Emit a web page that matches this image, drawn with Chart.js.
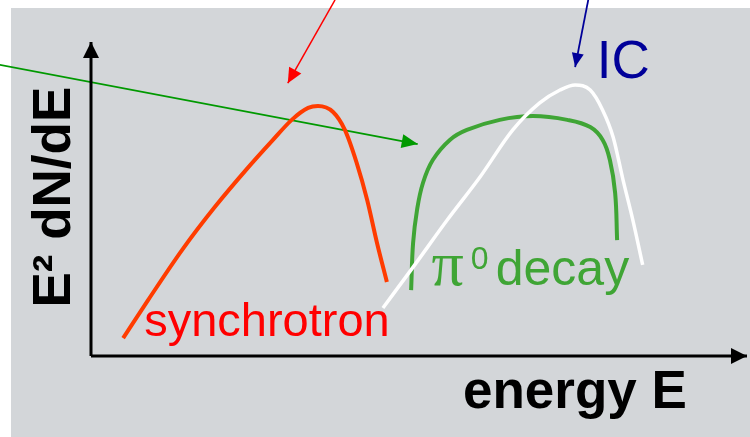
<!DOCTYPE html>
<html>
<head>
<meta charset="utf-8">
<script src="https://cdn.jsdelivr.net/npm/chart.js@4.4.1/dist/chart.umd.min.js"></script>
<style>
  html, body { margin: 0; padding: 0; background: #ffffff; }
  canvas { display: block; }
</style>
</head>
<body>
<canvas id="sed-chart" width="750" height="437"></canvas>
<script>
// schematic spectrum, arbitrary units (energy 0..100, E^2 dN/dE 0..100)
const synchrotronE = [4.9, 8.7, 13.9, 18.9, 23.9, 27.6, 30.6, 33.1, 34.6, 36.9, 38.7, 40.5, 42.1, 43.6, 45.1];
const synchrotronF = [5.7, 17.8, 33.8, 47.5, 59.9, 68.5, 75.2, 79.0, 79.6, 77.7, 72.0, 61.5, 49.7, 36.0, 23.6];

const icE = [44.5, 49.1, 54.3, 59.3, 64.3, 68.4, 71.5, 73.8, 76.1, 78.0, 79.6, 81.1, 82.6, 84.1];
const icF = [15.3, 28.3, 43.3, 57.0, 72.0, 80.6, 84.7, 86.3, 84.7, 78.3, 69.7, 56.1, 43.3, 29.0];

const pionE = [48.8, 49.1, 49.7, 50.6, 52.1, 54.7, 57.3, 62.3, 67.4, 72.6, 76.1, 78.0, 79.1, 79.9, 80.2];
const pionF = [21.0, 36.0, 46.5, 55.1, 62.4, 68.8, 72.0, 75.2, 76.4, 75.2, 72.9, 68.8, 62.4, 51.9, 36.9];

// pointer arrows [start, tip]
const greenArrowE = [-13.9, 49.8];
const greenArrowF = [92.7, 67.5];
const redArrowE = [37.2, 30.0];
const redArrowF = [113.4, 86.9];
const blueArrowE = [75.8, 73.8];
const blueArrowF = [113.4, 92.0];

// axes
const xAxisE = [0, 100];
const xAxisF = [0, 0];
const yAxisE = [0, 0];
const yAxisF = [0, 100];

function pts(xs, ys) {
  return xs.map((x, i) => ({ x: x, y: ys[i] }));
}

function curve(data, color, width, mode) {
  return {
    data: data,
    borderColor: color,
    borderWidth: width,
    pointRadius: 0,
    fill: false,
    tension: 0.4,
    cubicInterpolationMode: mode,
    clip: false
  };
}

function arrow(data, color, width, len, half) {
  return {
    data: data,
    borderColor: color,
    borderWidth: width,
    pointRadius: 0,
    fill: false,
    tension: 0,
    clip: false,
    headLen: len,
    headHalf: half
  };
}

const labels = [
  { text: 'synchrotron', x: 8.1, y: 6.4, font: '47px "Liberation Sans", Arial, sans-serif', color: '#ff0000' },
  { text: 'π', x: 51.9, y: 22.6, font: '64px "Liberation Serif", "Times New Roman", serif', color: '#3fa535' },
  { text: '0', x: 57.9, y: 27.7, font: '32px "Liberation Sans", Arial, sans-serif', color: '#3fa535' },
  { text: 'decay', x: 61.7, y: 22.6, font: '50px "Liberation Sans", Arial, sans-serif', color: '#3fa535' },
  { text: 'IC', x: 77.1, y: 88.5, font: '53px "Liberation Sans", Arial, sans-serif', color: '#000099' },
  { text: 'energy E', x: 56.7, y: -16.6, font: 'bold 53px "Liberation Sans", Arial, sans-serif', color: '#000000' }
];

const bgPlugin = {
  id: 'bg',
  beforeDraw(chart) {
    const c = chart.ctx;
    c.save();
    c.fillStyle = '#d3d6d9';
    c.fillRect(11, 8, chart.width - 11, chart.height - 8);
    c.restore();
  }
};

const arrowPlugin = {
  id: 'arrowHeads',
  afterDatasetsDraw(chart) {
    const c = chart.ctx;
    chart.data.datasets.forEach((ds, i) => {
      if (!ds.headLen) return;
      const el = chart.getDatasetMeta(i).data;
      const a = el[el.length - 2], b = el[el.length - 1];
      const ang = Math.atan2(b.y - a.y, b.x - a.x);
      c.save();
      c.translate(b.x, b.y);
      c.rotate(ang);
      c.fillStyle = ds.borderColor;
      c.beginPath();
      c.moveTo(0, 0);
      c.lineTo(-ds.headLen, -ds.headHalf);
      c.lineTo(-ds.headLen, ds.headHalf);
      c.closePath();
      c.fill();
      c.restore();
    });
  }
};

const textPlugin = {
  id: 'texts',
  afterDraw(chart) {
    const c = chart.ctx;
    const xs = chart.scales.x, ys = chart.scales.y;
    c.save();
    c.textBaseline = 'alphabetic';
    c.textAlign = 'left';
    labels.forEach(l => {
      c.font = l.font;
      c.fillStyle = l.color;
      c.fillText(l.text, xs.getPixelForValue(l.x), ys.getPixelForValue(l.y));
    });
    // y axis title, rotated
    c.translate(xs.getPixelForValue(-3.2), ys.getPixelForValue(50.6));
    c.rotate(-Math.PI / 2);
    c.textAlign = 'center';
    c.font = 'bold 53px "Liberation Sans", Arial, sans-serif';
    c.fillStyle = '#000000';
    c.fillText('E² dN/dE', 0, 0);
    c.restore();
  }
};

new Chart(document.getElementById('sed-chart'), {
  type: 'line',
  data: {
    datasets: [
      arrow(pts(xAxisE, xAxisF), '#000000', 3, 16, 8),
      arrow(pts(yAxisE, yAxisF), '#000000', 3, 16, 8),
      curve(pts(synchrotronE, synchrotronF), '#ff3c00', 4, 'monotone'),
      curve(pts(icE, icF), '#ffffff', 3.5, 'monotone'),
      curve(pts(pionE, pionF), '#3fa535', 4, 'default'),
      arrow(pts(greenArrowE, greenArrowF), '#009900', 1.8, 16, 7),
      arrow(pts(redArrowE, redArrowF), '#ff0000', 1.5, 15, 7),
      arrow(pts(blueArrowE, blueArrowF), '#000099', 1.8, 14, 6)
    ]
  },
  options: {
    responsive: false,
    animation: false,
    layout: { padding: { left: 91, right: 3, top: 42, bottom: 81 } },
    plugins: {
      legend: { display: false },
      tooltip: { enabled: false }
    },
    scales: {
      x: { type: 'linear', min: 0, max: 100, display: false },
      y: { type: 'linear', min: 0, max: 100, display: false }
    }
  },
  plugins: [bgPlugin, arrowPlugin, textPlugin]
});
</script>
</body>
</html>
